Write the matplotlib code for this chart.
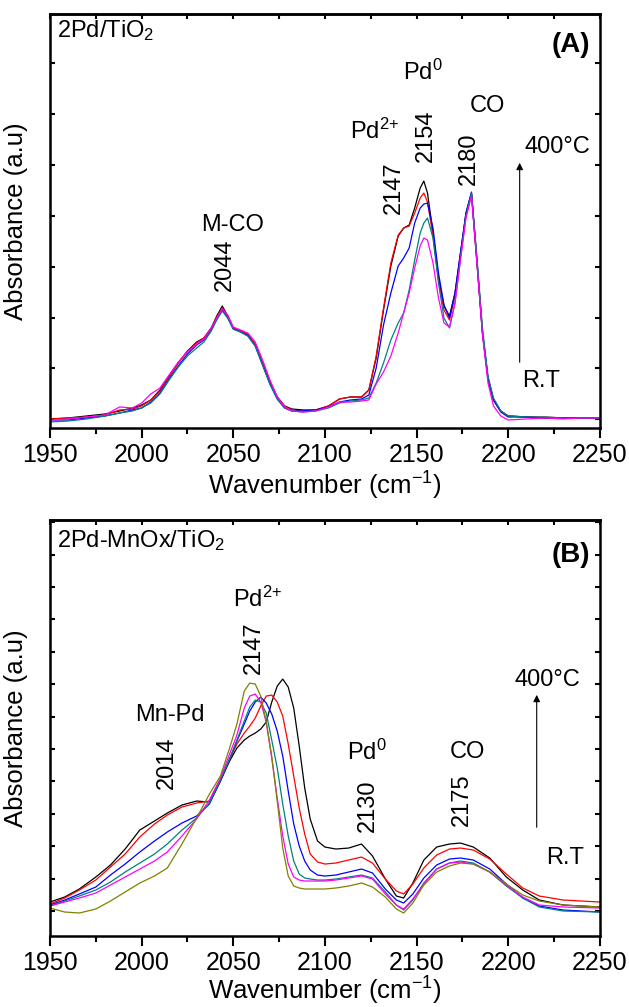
import numpy as np
import matplotlib
matplotlib.use("Agg")
import matplotlib.pyplot as plt

plt.rcParams['font.family'] = ['Liberation Sans', 'DejaVu Sans']
plt.rcParams['mathtext.fontset'] = 'custom'
plt.rcParams['mathtext.rm'] = 'Liberation Sans'
plt.rcParams['mathtext.it'] = 'Liberation Sans:italic'
plt.rcParams['mathtext.bf'] = 'Liberation Sans:bold'

# ---- panel A: 2Pd/TiO2 ----
wn_a = [1950, 1960, 1970, 1980, 1988, 1995, 2000, 2005, 2010, 2015, 2020, 2025, 2030,
        2034, 2038, 2041, 2044, 2047, 2050, 2054, 2058, 2062, 2066, 2070, 2074, 2078,
        2082, 2088, 2095, 2102, 2108, 2114, 2120, 2124, 2128, 2132, 2136, 2140, 2143,
        2146, 2149, 2152, 2154, 2156, 2159, 2162, 2165, 2168, 2171, 2174, 2177, 2180,
        2183, 2186, 2189, 2192, 2196, 2200, 2210, 2220, 2230, 2240, 2250]
a_black = [9, 10, 12, 14, 17, 20, 23, 28, 38, 52, 65, 77, 86, 90, 100, 112, 122, 112, 100,
           97, 93, 83, 65, 46, 31, 22, 19, 18, 18, 22, 29, 31, 31, 38, 70, 118, 162, 192, 200,
           203, 220, 240, 247, 235, 195, 150, 122, 112, 135, 175, 215, 235, 165, 95, 50, 28,
           17, 12, 11, 10, 10, 10, 10]
a_red = [9, 10, 11, 13, 18, 19, 22, 28, 37, 51, 65, 77, 85, 90, 100, 111, 120, 112, 100,
         97, 94, 84, 66, 47, 31, 22, 18, 17, 18, 22, 29, 31, 31, 38, 72, 120, 165, 193, 200,
         202, 215, 230, 235, 226, 192, 148, 118, 108, 132, 172, 213, 234, 165, 95, 50, 28,
         17, 12, 11, 11, 10, 10, 10]
a_blue = [8, 8, 10, 12, 15, 18, 20, 26, 35, 49, 62, 74, 83, 88, 98, 110, 118, 110, 99,
          96, 92, 82, 63, 44, 29, 20, 17, 17, 18, 21, 26, 28, 29, 33, 60, 103, 135, 162, 170,
          180, 205, 220, 224, 225, 200, 155, 123, 110, 135, 175, 215, 236, 168, 96, 50, 28,
          16, 11, 11, 10, 10, 10, 10]
a_teal = [6, 7, 9, 12, 15, 17, 20, 25, 34, 48, 61, 72, 80, 86, 97, 108, 117, 110, 99,
          96, 92, 82, 63, 44, 29, 20, 17, 16, 17, 20, 25, 27, 28, 30, 45, 65, 88, 105, 115,
          138, 168, 195, 205, 210, 190, 145, 110, 100, 125, 170, 212, 235, 170, 100, 52, 30,
          17, 12, 11, 11, 10, 10, 10]
a_magenta = [8, 9, 11, 13, 21, 20, 25, 34, 40, 53, 66, 76, 84, 89, 100, 110, 119, 113, 101,
             98, 95, 86, 68, 48, 31, 21, 17, 16, 17, 21, 26, 26, 27, 28, 44, 56, 72, 95, 115,
             135, 160, 182, 190, 188, 165, 130, 105, 101, 125, 168, 210, 232, 165, 93, 45, 22,
             12, 8, 9, 10, 9, 10, 10]

# ---- panel B: 2Pd-MnOx/TiO2 ----
wn_b = [1950, 1958, 1966, 1975, 1983, 1991, 1999, 2007, 2014, 2022, 2030, 2037, 2043,
        2048, 2052, 2056, 2059, 2062, 2065, 2068, 2071, 2074, 2077, 2080, 2083, 2086,
        2089, 2092, 2096, 2100, 2106, 2113, 2120, 2126, 2133, 2139, 2143, 2148, 2154,
        2161, 2168, 2174, 2181, 2190, 2199, 2208, 2217, 2230, 2250]
b_black = [34, 39, 47, 59, 71, 87, 106, 115, 123, 131, 135, 134, 155, 175, 188, 196, 200,
           203, 207, 214, 234, 250, 257, 249, 228, 190, 148, 117, 95, 89, 87, 88, 92, 80,
           57, 40, 38, 53, 76, 89, 92, 93, 89, 78, 59, 46, 36, 31, 29]
b_red = [32, 38, 46, 56, 69, 82, 99, 112, 121, 129, 133, 135, 156, 177, 192, 203, 210, 218,
         230, 240, 241, 234, 220, 192, 160, 128, 102, 82, 74, 72, 73, 76, 79, 73, 57, 45,
         42, 52, 68, 81, 87, 88, 86, 77, 62, 48, 40, 36, 34]
b_blue = [31, 36, 42, 49, 61, 72, 84, 95, 104, 113, 120, 132, 155, 177, 195, 212, 225, 234,
          239, 233, 222, 205, 180, 145, 112, 90, 75, 66, 61, 60, 61, 64, 67, 63, 47, 36, 33,
          42, 58, 71, 77, 78, 76, 67, 52, 38, 30, 26, 24]
b_teal = [30, 35, 40, 46, 54, 64, 73, 82, 92, 106, 118, 133, 156, 177, 196, 215, 229, 236,
          234, 223, 196, 168, 132, 100, 75, 62, 58, 57, 56, 56, 57, 59, 61, 58, 44, 31, 26,
          36, 53, 67, 73, 75, 73, 64, 50, 38, 29, 25, 24]
b_magenta = [30, 34, 38, 43, 51, 59, 67, 75, 84, 100, 117, 136, 158, 182, 201, 228, 240, 242,
             234, 214, 178, 138, 100, 72, 59, 56, 55, 55, 55, 55, 56, 58, 60, 57, 42, 31, 27,
             37, 52, 67, 73, 74, 72, 64, 51, 39, 31, 29, 28]
b_olive = [28, 24, 23, 27, 35, 44, 53, 60, 68, 92, 118, 142, 160, 188, 212, 245, 253, 252,
           240, 214, 180, 135, 88, 60, 50, 48, 47, 47, 47, 47, 48, 50, 53, 49, 39, 27, 23, 33,
           51, 64, 70, 73, 72, 64, 52, 41, 35, 31, 29]

colors_a = ["black", "red", "blue", "#008080", "magenta"]
colors_b = ["black", "red", "blue", "#008080", "magenta", "#808000"]

FS = 18


def style_axes(ax, ymax, ytick_start, ytick_step, xlab_pad):
    ax.set_xlim(1950, 2250)
    ax.set_ylim(0, ymax)
    ax.set_xticks(np.arange(1950, 2251, 50))
    ax.set_xticks(np.arange(1975, 2250, 50), minor=True)
    ax.tick_params(axis='x', which='major', direction='out', length=7, width=1.5,
                   labelsize=FS, pad=4, top=False)
    ax.tick_params(axis='x', which='minor', direction='out', length=4.5, width=1.5, top=False)
    ax.set_yticks(np.arange(ytick_start, ymax, ytick_step))
    ax.tick_params(axis='y', direction='in', length=3.5, width=1.5, left=True, right=True,
                   labelleft=False)
    sec = ax.secondary_xaxis('top')
    sec.set_xticks(np.arange(1950, 2251, 25))
    sec.tick_params(direction='in', length=3.5, width=1.5, labeltop=False)
    sec.spines['top'].set_linewidth(1.8)
    for s in ax.spines.values():
        s.set_linewidth(1.8)
    ax.set_xlabel("Wavenumber (cm$^{-1}$)", fontsize=FS + 0.5, labelpad=xlab_pad)
    ax.set_ylabel("Absorbance (a.u)", fontsize=FS + 0.5)
    ax.yaxis.set_label_coords(-0.04, 0.5)


fig = plt.figure(figsize=(6.29, 10.07), dpi=100)
ax_a = fig.add_axes([0.0795, 0.575, 0.874, 0.411])
ax_b = fig.add_axes([0.0795, 0.0705, 0.874, 0.413])

for ys, c in zip([a_black, a_red, a_blue, a_teal, a_magenta], colors_a):
    ax_a.plot(wn_a, ys, color=c, lw=0.9)
for ys, c in zip([b_black, b_red, b_blue, b_teal, b_magenta, b_olive], colors_b):
    ax_b.plot(wn_b, ys, color=c, lw=0.9)

style_axes(ax_a, 414, 8.5, 51, 2)
style_axes(ax_b, 416, 25, 32.4, 0)

# panel A annotations
ax_a.text(0.013, 0.961, "2Pd/TiO$_2$", transform=ax_a.transAxes, fontsize=FS - 1,
          ha='left', va='center')
ax_a.text(0.982, 0.925, "(A)", transform=ax_a.transAxes, fontsize=FS + 2,
          fontweight='bold', ha='right', va='center')
ax_a.text(2153.5, 356, "Pd$^0$", fontsize=FS - 1, ha='center', va='center')
ax_a.text(2188.8, 322, "CO", fontsize=FS - 1, ha='center', va='center')
ax_a.text(2127, 297, "Pd$^{2{+}}$", fontsize=FS - 1, ha='center', va='center')
ax_a.text(2155, 292, "2154", fontsize=FS - 1, rotation=90, ha='center', va='center')
ax_a.text(2137.5, 240, "2147", fontsize=FS - 1, rotation=90, ha='center', va='center')
ax_a.text(2178.5, 269, "2180", fontsize=FS - 1, rotation=90, ha='center', va='center')
ax_a.text(2049.6, 203, "M-CO", fontsize=FS - 1, ha='center', va='center')
ax_a.text(2045.3, 163, "2044", fontsize=FS - 1, rotation=90, ha='center', va='center')
ax_a.text(2227, 281, "400°C", fontsize=FS - 1, ha='center', va='center')
ax_a.text(2218, 47, "R.T", fontsize=FS - 1, ha='center', va='center')
ax_a.annotate("", xy=(2206.3, 268), xytext=(2206.3, 63),
              arrowprops=dict(arrowstyle='-|>', lw=0.8, color='black', mutation_scale=10))

# panel B annotations
ax_b.text(0.013, 0.952, "2Pd-MnOx/TiO$_2$", transform=ax_b.transAxes, fontsize=FS - 1,
          ha='left', va='center')
ax_b.text(0.982, 0.916, "(B)", transform=ax_b.transAxes, fontsize=FS + 2,
          fontweight='bold', ha='right', va='center')
ax_b.text(2063.3, 337, "Pd$^{2{+}}$", fontsize=FS - 1, ha='center', va='center')
ax_b.text(2061, 288, "2147", fontsize=FS - 1, rotation=90, ha='center', va='center')
ax_b.text(2015.3, 221, "Mn-Pd", fontsize=FS - 1, ha='center', va='center')
ax_b.text(2013.6, 173, "2014", fontsize=FS - 1, rotation=90, ha='center', va='center')
ax_b.text(2122.8, 184, "Pd$^0$", fontsize=FS - 1, ha='center', va='center')
ax_b.text(2123.3, 130, "2130", fontsize=FS - 1, rotation=90, ha='center', va='center')
ax_b.text(2178, 184, "CO", fontsize=FS - 1, ha='center', va='center')
ax_b.text(2174.6, 136, "2175", fontsize=FS - 1, rotation=90, ha='center', va='center')
ax_b.text(2221.6, 256, "400°C", fontsize=FS - 1, ha='center', va='center')
ax_b.text(2231, 78, "R.T", fontsize=FS - 1, ha='center', va='center')
ax_b.annotate("", xy=(2215.6, 244), xytext=(2215.6, 106),
              arrowprops=dict(arrowstyle='-|>', lw=0.8, color='black', mutation_scale=10))

fig.savefig("out.png", dpi=100)
